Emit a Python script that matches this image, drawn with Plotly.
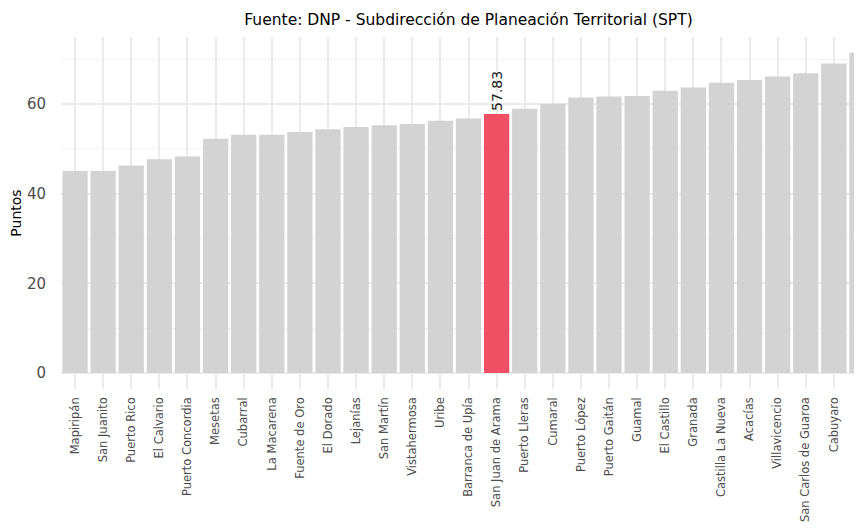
import plotly.graph_objects as go

municipios = [
    "Mapiripán", "San Juanito", "Puerto Rico", "El Calvario", "Puerto Concordia",
    "Mesetas", "Cubarral", "La Macarena", "Fuente de Oro", "El Dorado",
    "Lejanías", "San Martín", "Vistahermosa", "Uribe", "Barranca de Upía",
    "San Juan de Arama", "Puerto Lleras", "Cumaral", "Puerto López", "Puerto Gaitán",
    "Guamal", "El Castillo", "Granada", "Castilla La Nueva", "Acacías",
    "Villavicencio", "San Carlos de Guaroa", "Cabuyaro", "Restrepo",
]
puntos = [
    45.1, 45.1, 46.3, 47.7, 48.3,
    52.3, 53.2, 53.2, 53.8, 54.4,
    54.9, 55.3, 55.6, 56.3, 56.8,
    57.83, 59.0, 60.1, 61.5, 61.7,
    61.8, 63.0, 63.7, 64.8, 65.4,
    66.2, 66.9, 69.1, 71.5,
]
destacado = "San Juan de Arama"

colores = ["#EF5063" if m == destacado else "#D3D3D3" for m in municipios]
etiquetas = [f"{v:.2f}" if m == destacado else "" for m, v in zip(municipios, puntos)]

FONT = "DejaVu Sans, Verdana, sans-serif"

fig = go.Figure(go.Bar(
    x=municipios,
    y=puntos,
    marker=dict(color=colores, line=dict(width=0)),
    width=0.9,
    text=etiquetas,
    textposition="outside",
    textangle=-90,
    constraintext="none",
    textfont=dict(family=FONT, size=14, color="#1A1A1A"),
    cliponaxis=False,
    showlegend=False,
))

# the page puts the plot 8px in from the top-left corner, and the plot is wider than the window
fig.update_layout(
    width=880,
    height=532,
    margin=dict(l=53, r=12, t=29, b=151, autoexpand=False),
    plot_bgcolor="white",
    paper_bgcolor="white",
    font=dict(family=FONT),
    title=dict(
        text="Fuente: DNP - Subdirección de Planeación Territorial (SPT)",
        x=0.5, xref="paper", xanchor="center",
        y=1 - 12 / 532, yref="container", yanchor="middle",
        font=dict(family=FONT, size=15.5, color="#000000"),
    ),
    bargap=0.1,
)

fig.update_xaxes(
    type="category",
    range=[-0.5, 28.5],
    tickangle=-90,
    tickfont=dict(family=FONT, size=11.5, color="#4D4D4D"),
    ticklabelstandoff=5,
    showgrid=True,
    gridcolor="#EBEBEB",
    gridwidth=1.5,
    zeroline=False,
    showline=False,
    ticks="",
    automargin=False,
)

fig.update_yaxes(
    range=[-3.6, 75.0],
    tickvals=[0, 20, 40, 60],
    tickfont=dict(family=FONT, size=15, color="#4D4D4D"),
    ticks="outside",
    ticklen=11,
    tickcolor="rgba(0,0,0,0)",
    title=dict(text="Puntos", font=dict(family=FONT, size=14, color="#000000"), standoff=4),
    showgrid=True,
    gridcolor="#EBEBEB",
    gridwidth=1.5,
    minor=dict(tickvals=[10, 30, 50, 70], showgrid=True, gridcolor="#F3F3F3", gridwidth=1),
    zeroline=False,
    showline=False,
    automargin=False,
)

fig.write_html("out.html")
